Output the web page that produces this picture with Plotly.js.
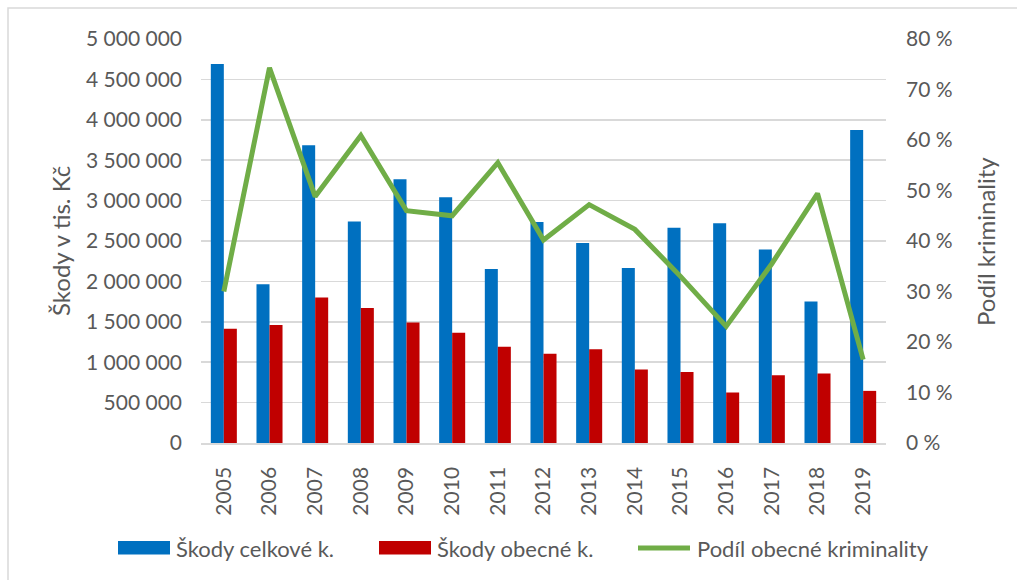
<!DOCTYPE html>
<html>
<head>
<meta charset="utf-8">
<script src="https://cdn.plot.ly/plotly-3.0.1.min.js"></script>
<style>
html,body{margin:0;padding:0;background:#fff;}
#chart{width:1017px;height:580px;}
</style>
</head>
<body>
<div id="chart"></div>
<script>
const years = ["2005","2006","2007","2008","2009","2010","2011","2012","2013","2014","2015","2016","2017","2018","2019"];
const skodyCelkove = [4690000,1965000,3685000,2740000,3265000,3040000,2155000,2735000,2475000,2165000,2665000,2720000,2395000,1750000,3875000];
const skodyObecne = [1415000,1460000,1800000,1670000,1490000,1365000,1190000,1105000,1160000,910000,880000,625000,840000,860000,645000];
const podilObecne = [30.0,74.3,48.8,60.9,46.0,45.0,55.5,40.2,47.2,42.3,33.0,23.1,35.5,49.4,16.5];
const seriesNames = ["Škody celkové k.","Škody obecné k.","Podíl obecné kriminality"];
const leftTitle = "Škody v tis. Kč";
const rightTitle = "Podíl kriminality";

const C_BLUE = "#0070c0", C_RED = "#c00000", C_GREEN = "#70ad47", C_TXT = "#595959", C_GRID = "#d9d9d9";
const FONT = "Lato, 'Open Sans', sans-serif";

// plot area in pixels: x 201..886, y 39..443
const L = 201, R = 886, T = 39, B = 443;
const px = x => (x - L) / (R - L);
const py = y => (B - y) / (B - T);

const traces = [
  {type:"bar", x:years, y:skodyCelkove, name:seriesNames[0], marker:{color:C_BLUE}, showlegend:false},
  {type:"bar", x:years, y:skodyObecne, name:seriesNames[1], marker:{color:C_RED}, showlegend:false},
  {type:"scatter", mode:"lines", x:years, y:podilObecne, yaxis:"y2", name:seriesNames[2],
   line:{color:C_GREEN, width:5}, showlegend:false}
];

const legendY = py(548);
const shapes = [
  {type:"rect", xref:"paper", yref:"paper", x0:px(8), x1:px(1030), y0:py(8), y1:py(600),
   line:{color:C_GRID, width:1.5}, fillcolor:"rgba(0,0,0,0)", layer:"below"},
  {type:"rect", xref:"paper", yref:"paper", x0:px(118), x1:px(170), y0:py(541), y1:py(554.5),
   line:{width:0}, fillcolor:C_BLUE},
  {type:"rect", xref:"paper", yref:"paper", x0:px(379), x1:px(431), y0:py(541), y1:py(554.5),
   line:{width:0}, fillcolor:C_RED},
  {type:"line", xref:"paper", yref:"paper", x0:px(638), x1:px(690), y0:legendY, y1:legendY,
   line:{color:C_GREEN, width:5}}
];

const annotations = [
  {xref:"paper", yref:"paper", x:px(174), y:legendY, xanchor:"left", yanchor:"middle", showarrow:false,
   text:seriesNames[0], font:{family:FONT, size:22, color:C_TXT}},
  {xref:"paper", yref:"paper", x:px(435), y:legendY, xanchor:"left", yanchor:"middle", showarrow:false,
   text:seriesNames[1], font:{family:FONT, size:22, color:C_TXT}},
  {xref:"paper", yref:"paper", x:px(695), y:legendY, xanchor:"left", yanchor:"middle", showarrow:false,
   text:seriesNames[2], font:{family:FONT, size:22, color:C_TXT}},
  {xref:"paper", yref:"paper", x:px(60), y:0.5, xanchor:"center", yanchor:"middle", showarrow:false,
   textangle:-90, text:leftTitle, font:{family:FONT, size:24, color:C_TXT}},
  {xref:"paper", yref:"paper", x:px(985), y:0.5, xanchor:"center", yanchor:"middle", showarrow:false,
   textangle:-90, text:rightTitle, font:{family:FONT, size:24, color:C_TXT}}
];

const layout = {
  width:1017, height:580,
  margin:{l:L, r:1017-R, t:T, b:580-B, pad:0},
  paper_bgcolor:"#fff", plot_bgcolor:"#fff",
  separators:", ",
  font:{family:FONT, size:21, color:C_TXT},
  barmode:"group", bargap:0.43, bargroupgap:0,
  showlegend:false,
  xaxis:{type:"category", tickangle:-90, showgrid:false, showline:true, linecolor:C_GRID, linewidth:1.5,
         ticks:"", ticklabelstandoff:14, tickfont:{family:FONT, size:21, color:C_TXT}, fixedrange:true},
  yaxis:{range:[0,5000000], dtick:500000, tick0:0, tickformat:",.0f", showgrid:true, gridcolor:C_GRID, gridwidth:1.5,
         zeroline:false, showline:false, ticks:"", ticklabelstandoff:18,
         tickfont:{family:FONT, size:21, color:C_TXT}},
  yaxis2:{range:[0,80], dtick:10, tick0:0, overlaying:"y", side:"right", showgrid:false, zeroline:false,
          ticksuffix:" %", ticks:"", ticklabelstandoff:19, showline:false,
          tickfont:{family:FONT, size:21, color:C_TXT}},
  shapes:shapes,
  annotations:annotations
};

Plotly.newPlot("chart", traces, layout, {staticPlot:true, displayModeBar:false});
</script>
</body>
</html>
